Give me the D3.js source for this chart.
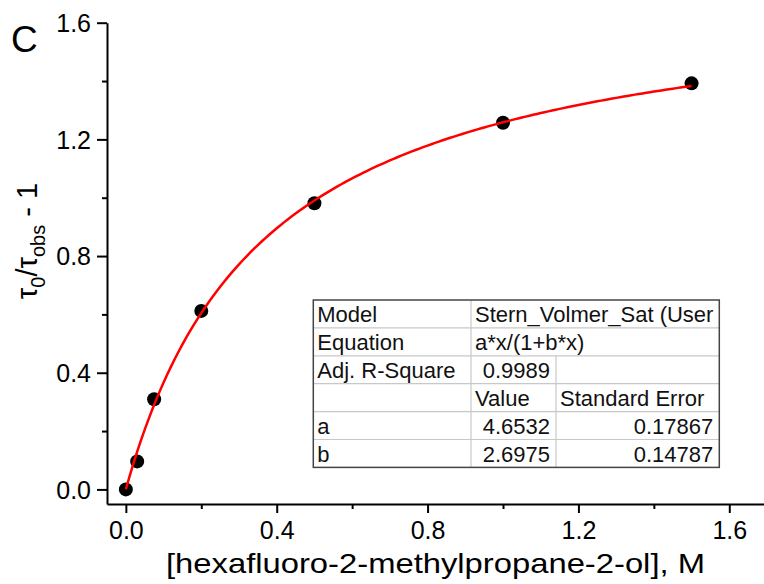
<!DOCTYPE html>
<html>
<head>
<meta charset="utf-8">
<script src="https://cdn.jsdelivr.net/npm/d3@7"></script>
<style>
body { margin: 0; background: #fff; }
svg { display: block; font-family: "Liberation Sans", Arial, sans-serif; }
.axis path, .axis line { stroke: #000; stroke-width: 2; }
.axis text { fill: #000; font-size: 25px; font-family: "Liberation Sans", Arial, sans-serif; }
</style>
</head>
<body>
<div id="chart"></div>
<script>
(function () {

var conc = [0, 0.03, 0.075, 0.2, 0.5, 1.0, 1.5];
var ratio = [0, 0.096, 0.309, 0.612, 0.981, 1.257, 1.392];

// fit parameters (from the table)
var fitA = 4.6532, fitB = 2.6975;

var xTicks = [0, 0.4, 0.8, 1.2, 1.6],
    xMinor = [0.2, 0.6, 1.0, 1.4],
    yTicks = [0, 0.4, 0.8, 1.2, 1.6],
    yMinor = [0.2, 0.6, 1.0, 1.4];

var tableRows = [
  ["Model", "Stern_Volmer_Sat (User", null],
  ["Equation", "a*x/(1+b*x)", null],
  ["Adj. R-Square", "0.9989", ""],
  ["", "Value", "Standard Error"],
  ["a", "4.6532", "0.17867"],
  ["b", "2.6975", "0.14787"]
];

var margin = {top: 22.7, left: 107},
    width = 660,
    height = 481.3;

var svg = d3.select("#chart").append("svg")
    .attr("width", 764)
    .attr("height", 584);

var chart = svg.append("g")
    .attr("transform", "translate(" + margin.left + "," + margin.top + ")");

var x = d3.scaleLinear().domain([-0.05, 1.7]).range([0, width]);
var y = d3.scaleLinear().domain([-0.05, 1.6]).range([height, 0]);

var fmt = d3.format(".1f");

// minor ticks first
chart.append("g")
    .attr("class", "axis")
    .attr("transform", "translate(0," + height + ")")
    .call(d3.axisBottom(x).tickValues(xMinor).tickSize(5).tickFormat(""))
    .select(".domain").remove();

chart.append("g")
    .attr("class", "axis")
    .call(d3.axisLeft(y).tickValues(yMinor).tickSize(5).tickFormat(""))
    .select(".domain").remove();

var gx = chart.append("g")
    .attr("class", "axis")
    .attr("transform", "translate(0," + height + ")")
    .call(d3.axisBottom(x).tickValues(xTicks).tickSize(9).tickSizeOuter(0).tickFormat(fmt));
gx.selectAll("text").attr("y", 35).attr("dy", 0);

var gy = chart.append("g")
    .attr("class", "axis")
    .call(d3.axisLeft(y).tickValues(yTicks).tickSize(10).tickSizeOuter(0).tickFormat(fmt));
gy.selectAll("text").attr("x", -16).attr("dy", "0.35em");

// data points
chart.selectAll(".pt")
    .data(conc)
    .enter()
    .append("circle")
    .attr("class", "pt")
    .attr("cx", function (d) { return x(d); })
    .attr("cy", function (d, i) { return y(ratio[i]); })
    .attr("r", 7)
    .attr("fill", "#000");

// fitted curve a*x/(1+b*x)
var fitX = d3.range(0, 1.5 + 1e-9, 0.01);
var line = d3.line()
    .x(function (d) { return x(d); })
    .y(function (d) { return y(fitA * d / (1 + fitB * d)); });

chart.append("path")
    .attr("d", line(fitX))
    .attr("fill", "none")
    .attr("stroke", "#ff0000")
    .attr("stroke-width", 2.5);

// axis titles
svg.append("text")
    .attr("x", 166)
    .attr("y", 573)
    .attr("font-size", 28)
    .attr("textLength", 539)
    .attr("lengthAdjust", "spacingAndGlyphs")
    .text("[hexafluoro-2-methylpropane-2-ol], M");

var yt = svg.append("text")
    .attr("transform", "translate(37,241) rotate(-90)")
    .attr("text-anchor", "middle")
    .attr("font-size", 29);
yt.append("tspan").text("\u03c4");
yt.append("tspan").attr("dy", 8).attr("font-size", 20).text("0");
yt.append("tspan").attr("dy", -8).text("/\u03c4");
yt.append("tspan").attr("dy", 8).attr("font-size", 20).text("obs");
yt.append("tspan").attr("dy", -8).text(" - 1");

svg.append("text")
    .attr("x", 11)
    .attr("y", 52)
    .attr("font-size", 37)
    .text("C");

// results table
var tbl = {cols: [313.3, 471, 556, 719.3], top: 300, rowH: 27.9};
var tg = svg.append("g").attr("font-size", 22).attr("fill", "#111");
var tableBottom = tbl.top + tbl.rowH * tableRows.length;

tableRows.forEach(function (row, i) {
  var yTop = tbl.top + i * tbl.rowH,
      base = yTop + 22;
  if (i > 0) {
    tg.append("line")
        .attr("x1", tbl.cols[0]).attr("x2", tbl.cols[3])
        .attr("y1", yTop).attr("y2", yTop)
        .attr("stroke", "#c8c8c8").attr("stroke-width", 1.2);
  }
  row.forEach(function (cell, j) {
    if (!cell) return;
    var numeric = !isNaN(+cell);
    tg.append("text")
        .attr("x", numeric ? tbl.cols[j + 1] - 6 : tbl.cols[j] + 4)
        .attr("y", base)
        .attr("text-anchor", numeric ? "end" : "start")
        .text(cell);
  });
});

// column separators
tg.append("line")
    .attr("x1", tbl.cols[1]).attr("x2", tbl.cols[1])
    .attr("y1", tbl.top).attr("y2", tableBottom)
    .attr("stroke", "#c8c8c8").attr("stroke-width", 1.2);
tg.append("line")
    .attr("x1", tbl.cols[2]).attr("x2", tbl.cols[2])
    .attr("y1", tbl.top + 2 * tbl.rowH).attr("y2", tableBottom)
    .attr("stroke", "#c8c8c8").attr("stroke-width", 1.2);

tg.append("rect")
    .attr("x", tbl.cols[0]).attr("y", tbl.top)
    .attr("width", tbl.cols[3] - tbl.cols[0])
    .attr("height", tableBottom - tbl.top)
    .attr("fill", "none")
    .attr("stroke", "#444").attr("stroke-width", 1.5);

}).call(this);
</script>
</body>
</html>
